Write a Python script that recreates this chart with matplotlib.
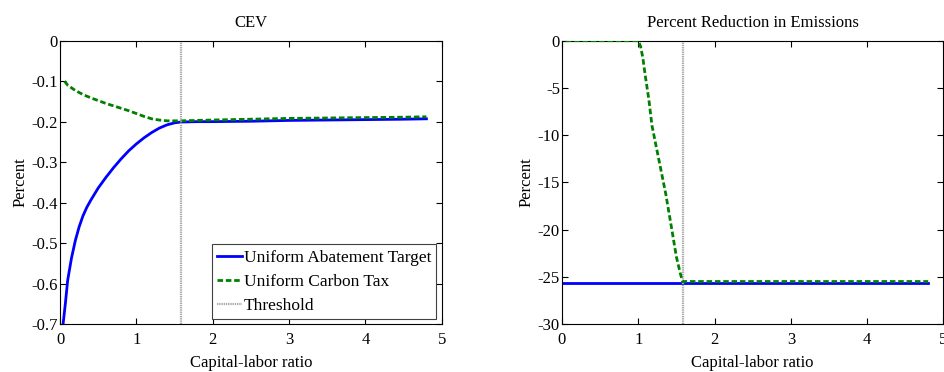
import matplotlib
matplotlib.use('Agg')
import matplotlib.pyplot as plt

# Datos
umbral = 1.58

x_cev_uat = [0.035, 0.04, 0.07, 0.1, 0.15, 0.2, 0.25, 0.3, 0.35, 0.4, 0.5, 0.6, 0.7, 0.8, 0.9,
             1.0, 1.1, 1.2, 1.3, 1.4, 1.5, 1.58, 1.8, 2.0, 2.5, 3.0, 3.5, 4.0, 4.5, 4.8]
cev_uat = [-0.72, -0.70, -0.649, -0.592, -0.537, -0.494, -0.460, -0.433, -0.412, -0.395, -0.364,
           -0.338, -0.314, -0.292, -0.272, -0.255, -0.240, -0.227, -0.216, -0.208, -0.203,
           -0.201, -0.200, -0.200, -0.199, -0.197, -0.196, -0.195, -0.194, -0.193]

x_cev_tax = [0.06, 0.1, 0.2, 0.3, 0.4, 0.5, 0.6, 0.7, 0.8, 0.9, 1.0, 1.1, 1.2, 1.3, 1.4,
             1.5, 1.58, 2.0, 2.5, 3.0, 3.5, 4.0, 4.5, 4.8]
cev_tax = [-0.100, -0.110, -0.123, -0.133, -0.141, -0.148, -0.155, -0.161, -0.167, -0.173,
           -0.180, -0.187, -0.193, -0.196, -0.198, -0.198, -0.198, -0.196, -0.194, -0.192,
           -0.191, -0.190, -0.189, -0.188]

x_em_uat = [0.02, 1.0, 2.0, 3.0, 4.0, 4.8]
em_uat = [-25.7, -25.7, -25.7, -25.7, -25.7, -25.7]

x_em_tax = [0.05, 0.5, 1.0, 1.03, 1.06, 1.09, 1.14, 1.18, 1.27, 1.36, 1.44, 1.5, 1.55, 1.58,
            2.0, 3.0, 4.0, 4.8]
em_tax = [0.0, 0.0, 0.0, -0.6, -1.8, -3.6, -6.3, -9.0, -12.6, -16.2, -20.0, -22.9, -24.6, -25.5,
          -25.5, -25.5, -25.5, -25.5]

plt.rcParams['font.family'] = ['Liberation Serif', 'DejaVu Serif']
tam = 12

fig = plt.figure(figsize=(9.44, 3.72), dpi=100)
ax1 = fig.add_axes([0.0636, 0.129, 0.4043, 0.7616])
ax2 = fig.add_axes([0.5953, 0.129, 0.4041, 0.7616])

color_azul = '#0000ff'
color_verde = '#008000'
color_umbral = '#a8a8a8'


def estilo_matlab(ax):
    ax.tick_params(direction='in', top=True, right=True, length=4, width=0.8, labelsize=tam)
    ax.tick_params(axis='x', pad=6)
    ax.tick_params(axis='y', pad=1.5)
    for s in ax.spines.values():
        s.set_linewidth(0.8)
    ax.set_xlim(0, 5)
    ax.set_xticks([0, 1, 2, 3, 4, 5])
    ax.set_xlabel('Capital-labor ratio', fontsize=tam, labelpad=5)
    ax.set_ylabel('Percent', fontsize=tam, labelpad=2)


# Panel CEV
ax1.plot(x_cev_uat, cev_uat, color=color_azul, lw=2, label='Uniform Abatement Target')
ax1.plot(x_cev_tax, cev_tax, color=color_verde, lw=2, ls=(0, (2, 1)), label='Uniform Carbon Tax')
ax1.axvline(umbral, color=color_umbral, lw=1.6, ls=(0, (0.6, 0.4)), label='Threshold')
ax1.set_ylim(-0.7, 0)
ax1.set_yticks([0, -0.1, -0.2, -0.3, -0.4, -0.5, -0.6, -0.7])
ax1.set_yticklabels(['0', '-0.1', '-0.2', '-0.3', '-0.4', '-0.5', '-0.6', '-0.7'])
ax1.set_title('CEV', fontsize=tam, pad=10)
estilo_matlab(ax1)
leg = ax1.legend(loc='lower right', fontsize=12.5, frameon=True, fancybox=False,
                 edgecolor='#404040', framealpha=1, handlelength=1.45, handletextpad=0.1,
                 borderaxespad=0.3, labelspacing=0.45, borderpad=0.3)
leg.get_frame().set_linewidth(0.8)

# Panel emisiones
ax2.plot(x_em_uat, em_uat, color=color_azul, lw=2)
ax2.plot(x_em_tax, em_tax, color=color_verde, lw=2, ls=(0, (2, 1)), zorder=3)
ax2.axvline(umbral, color=color_umbral, lw=1.6, ls=(0, (0.6, 0.4)))
ax2.set_ylim(-30, 0)
ax2.set_yticks([0, -5, -10, -15, -20, -25, -30])
ax2.set_yticklabels(['0', '-5', '-10', '-15', '-20', '-25', '-30'])
ax2.set_title('Percent Reduction in Emissions', fontsize=tam, pad=10)
estilo_matlab(ax2)

fig.savefig('out.png', dpi=100)
